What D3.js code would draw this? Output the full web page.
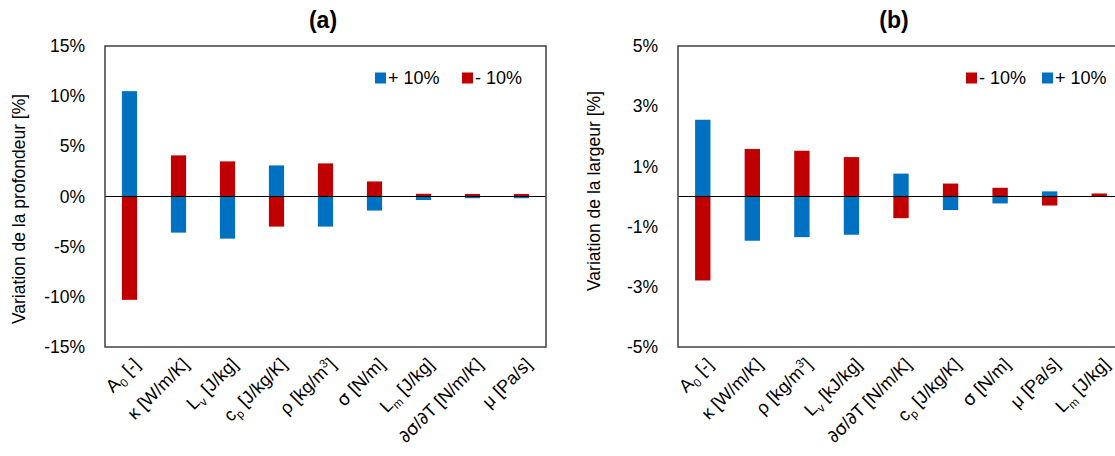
<!DOCTYPE html>
<html><head><meta charset="utf-8">
<script src="https://cdn.jsdelivr.net/npm/d3@7"></script>
<style>
html,body{margin:0;padding:0;background:#fff;}
svg{display:block;font-family:"Liberation Sans",Arial,Helvetica,sans-serif;}
</style></head>
<body>
<svg id="chart" width="1115" height="456"></svg>
<script>
// ---- Data (panel a) ----
const catsA = ["A_0 [-]", "κ [W/m/K]", "L_v [J/kg]", "c_p [J/kg/K]", "ρ [kg/m^3]", "σ [N/m]", "L_m [J/kg]", "∂σ/∂T [N/m/K]", "μ [Pa/s]"];
const plusA  = [10.5, -3.6, -4.2, 3.1, -3.0, -1.4, -0.35, -0.17, -0.17];
const minusA = [-10.3, 4.1, 3.5, -3.0, 3.3, 1.5, 0.27, 0.25, 0.25];
const ticksA = [-15, -10, -5, 0, 5, 10, 15];

// ---- Data (panel b) ----
const catsB = ["A_0 [-]", "κ [W/m/K]", "ρ [kg/m^3]", "L_v [kJ/kg]", "∂σ/∂T [N/m/K]", "c_p [J/kg/K]", "σ [N/m]", "μ [Pa/s]", "L_m [J/kg]"];
const minusB = [-2.79, 1.58, 1.52, 1.31, -0.72, 0.43, 0.29, -0.30, 0.10];
const plusB  = [2.55, -1.47, -1.35, -1.27, 0.76, -0.45, -0.23, 0.17, -0.01];
const ticksB = [-5, -3, -1, 1, 3, 5];

const seriesNames = {plus: "+ 10%", minus: "- 10%"};
const colors = {plus: "#0070C0", minus: "#C00000"};

const FS = 17.5;   // axis text
const LFS = 18;    // category label text
const svg = d3.select("#chart");

function richLabel(textSel, s) {
  const re = /([_^])(\w)|([∂σ])/g;
  let last = 0, m;
  const parts = [];
  while ((m = re.exec(s)) !== null) {
    if (m.index > last) parts.push({t: s.slice(last, m.index), k: "n"});
    if (m[3]) parts.push({t: m[3], k: "g"});
    else parts.push({t: m[2], k: m[1] === "_" ? "sub" : "sup"});
    last = m.index + m[0].length;
  }
  if (last < s.length) parts.push({t: s.slice(last), k: "n"});
  const sub = LFS * 0.25, sup = LFS * 0.38;
  let off = 0;
  parts.forEach(p => {
    const ts = textSel.append("tspan").text(p.t);
    let target = 0;
    if (p.k === "sub") { ts.attr("font-size", LFS * 0.65); target = sub; }
    else if (p.k === "sup") { ts.attr("font-size", LFS * 0.65); target = -sup; }
    else if (p.k === "g") { ts.attr("font-family", "\"DejaVu Sans\",sans-serif"); }
    const dy = target - off;
    if (dy) ts.attr("dy", dy);
    off = target;
  });
}

function panel(opts) {
  const {x0, x1, y0, y1, cats, s1, s2, s1key, s2key, domain, ticks, title, titleX, ytitle, ytitleX, ytitleY, legend} = opts;
  const g = svg.append("g");
  const x = d3.scaleBand().domain(cats).range([x0, x1]).paddingInner(0.69).paddingOuter(0.345);
  const y = d3.scaleLinear().domain(domain).range([y1, y0]);

  [[s1, s1key], [s2, s2key]].forEach(([vals, key]) => {
    g.append("g").selectAll("rect").data(vals).join("rect")
      .attr("x", (d, i) => x(cats[i]))
      .attr("width", x.bandwidth())
      .attr("y", d => y(Math.max(0, d)))
      .attr("height", d => Math.abs(y(d) - y(0)))
      .attr("fill", colors[key]);
  });

  g.append("line").attr("x1", x0).attr("x2", x1).attr("y1", y(0)).attr("y2", y(0))
    .attr("stroke", "#000").attr("stroke-width", 1.2);

  g.append("rect").attr("x", x0).attr("y", y0).attr("width", x1 - x0).attr("height", y1 - y0)
    .attr("fill", "none").attr("stroke", "#404040").attr("stroke-width", 1.5);

  const ya = d3.axisLeft(y).tickValues(ticks).tickSize(0).tickPadding(20).tickFormat(d => d + "%");
  const yg = g.append("g").attr("transform", `translate(${x0},0)`).call(ya);
  yg.select(".domain").remove();
  yg.selectAll("text").attr("font-size", FS).attr("fill", "#000")
    .attr("font-family", "\"Liberation Sans\",Arial,sans-serif");

  cats.forEach(c => {
    const cx = x(c) + x.bandwidth() / 2;
    const t = g.append("text")
      .attr("transform", `translate(${cx + 7},${y1 + 14}) rotate(-45)`)
      .attr("text-anchor", "end").attr("dy", "0.35em")
      .attr("font-size", LFS).attr("fill", "#000");
    richLabel(t, c);
  });

  g.append("text").attr("x", titleX).attr("y", 28).attr("text-anchor", "middle")
    .attr("font-size", 23).attr("font-weight", "bold").text(title);

  g.append("text").attr("transform", `translate(${ytitleX},${ytitleY}) rotate(-90)`)
    .attr("text-anchor", "middle").attr("font-size", FS).text(ytitle);

  legend.forEach(L => {
    g.append("rect").attr("x", L.x).attr("y", 72.5).attr("width", 11).attr("height", 11).attr("fill", colors[L.key]);
    g.append("text").attr("x", L.x + 13).attr("y", 84).attr("font-size", 18).text(seriesNames[L.key]);
  });
}

panel({
  x0: 105, x1: 546, y0: 46, y1: 347, cats: catsA, s1: plusA, s2: minusA, s1key: "plus", s2key: "minus",
  domain: [-15, 15], ticks: ticksA, title: "(a)", titleX: 323,
  ytitle: "Variation de la profondeur [%]", ytitleX: 25, ytitleY: 209,
  legend: [{key: "plus", x: 375}, {key: "minus", x: 462}]
});

panel({
  x0: 678, x1: 1124, y0: 46, y1: 347, cats: catsB, s1: minusB, s2: plusB, s1key: "minus", s2key: "plus",
  domain: [-5, 5], ticks: ticksB, title: "(b)", titleX: 894,
  ytitle: "Variation de la largeur [%]", ytitleX: 600, ytitleY: 191,
  legend: [{key: "minus", x: 966}, {key: "plus", x: 1042}]
});
</script>
</body></html>
